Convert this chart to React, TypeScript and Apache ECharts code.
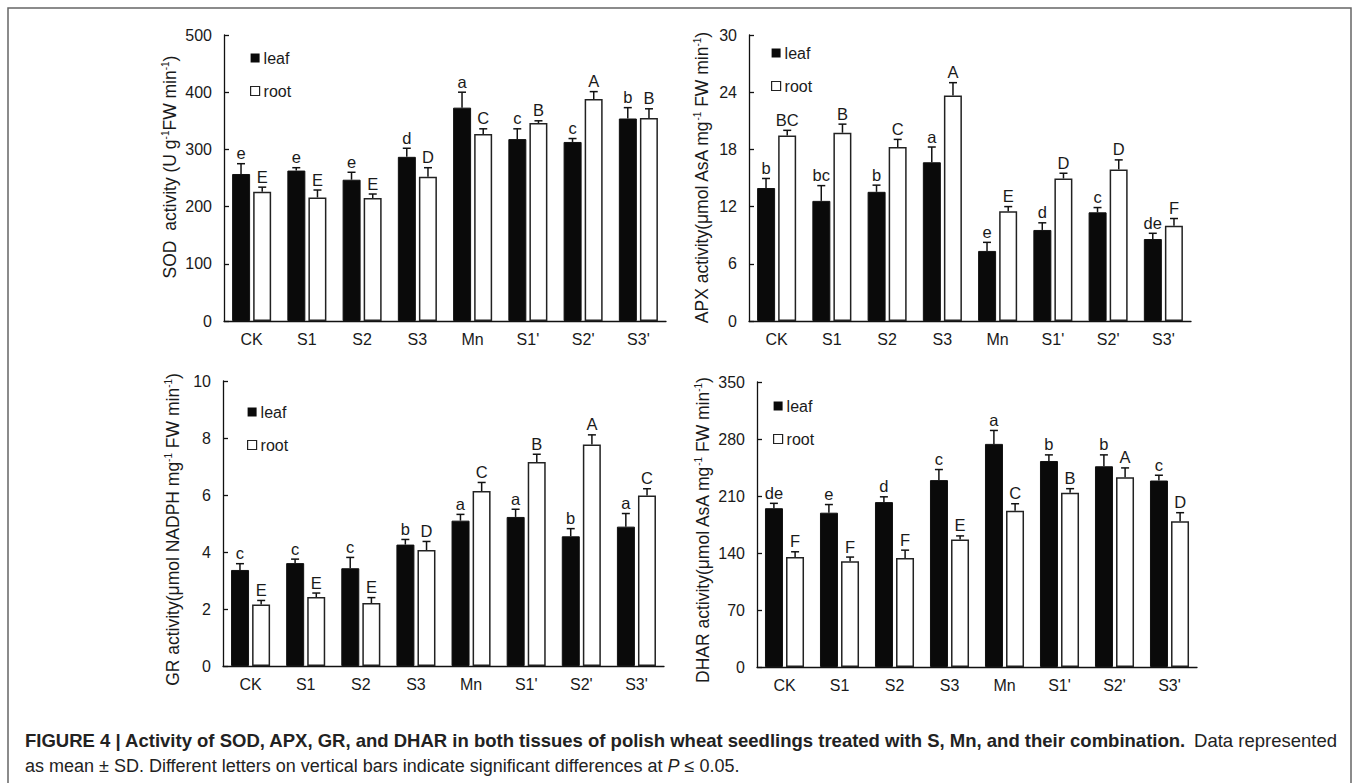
import React, { useEffect, useRef } from "react";
import * as echarts from "echarts";

const FONT = "'Liberation Sans', Arial, Helvetica, sans-serif";
const TXT = "#1a1a1a";

const categories = ["CK", "S1", "S2", "S3", "Mn", "S1'", "S2'", "S3'"];
const seriesNames = ["leaf", "root"];

// SOD (U g-1 FW min-1)
const sodLeaf = [257, 263, 247, 287, 373, 318, 313, 354];
const sodLeafSd = [18, 5, 13, 15, 27, 18, 6, 19];
const sodLeafLetters = ["e", "e", "e", "d", "a", "c", "c", "b"];
const sodRoot = [226, 216, 215, 252, 327, 346, 388, 355];
const sodRootSd = [8, 13, 7, 16, 9, 4, 13, 16];
const sodRootLetters = ["E", "E", "E", "D", "C", "B", "A", "B"];

// APX
const apxLeaf = [13.95, 12.6, 13.55, 16.65, 7.35, 9.55, 11.4, 8.6];
const apxLeafSd = [1.0, 1.6, 0.7, 1.6, 0.9, 0.75, 0.5, 0.6];
const apxLeafLetters = ["b", "bc", "b", "a", "e", "d", "c", "de"];
const apxRoot = [19.45, 19.75, 18.25, 23.65, 11.5, 14.95, 15.9, 10.0];
const apxRootSd = [0.55, 0.9, 0.8, 1.35, 0.5, 0.55, 1.0, 0.75];
const apxRootLetters = ["BC", "B", "C", "A", "E", "D", "D", "F"];

// GR
const grLeaf = [3.37, 3.61, 3.43, 4.26, 5.1, 5.23, 4.55, 4.89];
const grLeafSd = [0.22, 0.14, 0.38, 0.18, 0.22, 0.27, 0.27, 0.46];
const grLeafLetters = ["c", "c", "c", "b", "a", "a", "b", "a"];
const grRoot = [2.16, 2.42, 2.21, 4.07, 6.14, 7.16, 7.77, 5.98];
const grRootSd = [0.14, 0.14, 0.19, 0.3, 0.3, 0.27, 0.34, 0.24];
const grRootLetters = ["E", "E", "E", "D", "C", "B", "A", "C"];

// DHAR
const dharLeaf = [195, 189.5, 202.5, 229.5, 274, 253, 246.5, 229];
const dharLeafSd = [6, 10, 6.5, 13, 16.5, 7.5, 14, 6.5];
const dharLeafLetters = ["de", "e", "d", "c", "a", "b", "b", "c"];
const dharRoot = [135, 130, 134, 156.5, 192, 214, 233, 179];
const dharRootSd = [6.5, 5, 9.5, 4.5, 8.5, 5, 11.5, 10.5];
const dharRootLetters = ["F", "F", "F", "E", "C", "B", "A", "D"];

const yMax = [500, 30, 10, 350];
const yInterval = [100, 6, 2, 70];
const yNames = [
  "SOD  activity (U g{sup|-1}FW min{sup|-1})",
  "APX activity(μmol AsA mg{sup|-1} FW min{sup|-1})",
  "GR activity(μmol NADPH mg{sup|-1} FW min{sup|-1})",
  "DHAR activity(μmol AsA mg{sup|-1} FW min{sup|-1})",
];

const captionBold =
  "FIGURE 4 | Activity of SOD, APX, GR, and DHAR in both tissues of polish wheat seedlings treated with S, Mn, and their combination.";
const captionTail = "Data represented";
const captionLine2 =
  "as mean ± SD. Different letters on vertical bars indicate significant differences at {i|P} ≤ 0.05.";

const panelData = [
  { leaf: sodLeaf, leafSd: sodLeafSd, leafLet: sodLeafLetters, root: sodRoot, rootSd: sodRootSd, rootLet: sodRootLetters },
  { leaf: apxLeaf, leafSd: apxLeafSd, leafLet: apxLeafLetters, root: apxRoot, rootSd: apxRootSd, rootLet: apxRootLetters },
  { leaf: grLeaf, leafSd: grLeafSd, leafLet: grLeafLetters, root: grRoot, rootSd: grRootSd, rootLet: grRootLetters },
  { leaf: dharLeaf, leafSd: dharLeafSd, leafLet: dharLeafLetters, root: dharRoot, rootSd: dharRootSd, rootLet: dharRootLetters },
];

// layout (positions only)
const grids = [
  { left: 224, top: 35, width: 442, height: 286 },
  { left: 749, top: 35, width: 442, height: 286 },
  { left: 223, top: 381, width: 441, height: 285 },
  { left: 757, top: 382, width: 440, height: 285 },
];
const legendPos = [
  { left: 250, top: 50 },
  { left: 771, top: 45 },
  { left: 247, top: 404 },
  { left: 773, top: 398 },
];
const nameGaps = [44, 37, 40, 44];
const namePads = [
  [0, 0, 0, 22],
  [0, 0, 0, 0],
  [0, 12, 0, 0],
  [0, 12, 0, 0],
];

const BAR_W = 18;
const BAR_OFF = 10.6;

export default function App() {
  const ref = useRef<HTMLDivElement>(null);

  useEffect(() => {
    document.body.style.margin = "0";
    if (!ref.current) return;
    const chart = echarts.init(ref.current, null, { renderer: "svg" });

    const series: any[] = [];
    panelData.forEach((p, k) => {
      series.push({
        name: "leaf",
        type: "bar",
        xAxisIndex: k,
        yAxisIndex: k,
        data: p.leaf,
        barWidth: BAR_W,
        barGap: "17%",
        itemStyle: { color: "#0a0a0a", borderColor: "#111", borderWidth: 1 },
        z: 2,
      });
      series.push({
        name: "root",
        type: "bar",
        xAxisIndex: k,
        yAxisIndex: k,
        data: p.root,
        barWidth: BAR_W,
        barGap: "17%",
        itemStyle: { color: "#ffffff", borderColor: "#222", borderWidth: 1.5 },
        z: 2,
      });
      const mk = (vals: number[], sds: number[], lets: string[], off: number, nm: string) => ({
        name: nm,
        type: "custom",
        xAxisIndex: k,
        yAxisIndex: k,
        z: 5,
        data: vals.map((v, i) => [i, v, sds[i]]),
        encode: { x: 0, y: 1 },
        renderItem: (params: any, api: any) => {
          const i = api.value(0);
          const v = api.value(1);
          const sd = api.value(2);
          const base = api.coord([i, v]);
          const top = api.coord([i, v + sd]);
          const x = base[0] + off;
          const ls = { stroke: "#111", lineWidth: 1.5 };
          return {
            type: "group",
            children: [
              { type: "line", shape: { x1: x, y1: base[1], x2: x, y2: top[1] }, style: ls },
              { type: "line", shape: { x1: x - 4, y1: top[1], x2: x + 4, y2: top[1] }, style: ls },
              {
                type: "text",
                x: x,
                y: top[1] - 2,
                style: {
                  text: lets[params.dataIndex],
                  fill: TXT,
                  fontSize: 16.5,
                  fontFamily: FONT,
                  align: "center",
                  verticalAlign: "bottom",
                },
              },
            ],
          };
        },
      });
      series.push(mk(p.leaf, p.leafSd, p.leafLet, -BAR_OFF, "leafErr" + k));
      series.push(mk(p.root, p.rootSd, p.rootLet, BAR_OFF, "rootErr" + k));
    });

    const option: any = {
      animation: false,
      backgroundColor: "#ffffff",
      textStyle: { fontFamily: FONT },
      grid: grids.map((g) => ({ ...g, containLabel: false })),
      legend: legendPos.map((lp) => ({
        ...lp,
        orient: "vertical",
        selectedMode: false,
        padding: 0,
        itemWidth: 9,
        itemHeight: 9,
        itemGap: 17,
        icon: "rect",
        textStyle: { fontSize: 16, color: TXT, fontFamily: FONT, padding: [0, 0, 0, -1] },
        data: [
          { name: seriesNames[0], itemStyle: { color: "#0a0a0a", borderWidth: 0 } },
          { name: seriesNames[1], itemStyle: { color: "#ffffff", borderColor: "#222", borderWidth: 1.2 } },
        ],
      })),
      xAxis: grids.map((_, k) => ({
        gridIndex: k,
        type: "category",
        data: categories,
        axisTick: { show: false },
        axisLine: { show: true, lineStyle: { color: "#111", width: 1.3 } },
        axisLabel: { fontSize: 16, color: TXT, margin: 10, fontFamily: FONT },
        splitLine: { show: false },
      })),
      yAxis: grids.map((_, k) => ({
        gridIndex: k,
        type: "value",
        min: 0,
        max: yMax[k],
        interval: yInterval[k],
        axisLine: { show: true, lineStyle: { color: "#111", width: 1.3 } },
        axisTick: { show: true, inside: true, length: 5, lineStyle: { color: "#111", width: 1.3 } },
        splitLine: { show: false },
        axisLabel: { fontSize: 16, color: TXT, margin: 12, fontFamily: FONT },
        name: yNames[k],
        nameLocation: "middle",
        nameGap: nameGaps[k],
        nameRotate: 90,
        nameTextStyle: {
          fontSize: 17.5,
          color: TXT,
          fontFamily: FONT,
          lineHeight: 20,
          padding: namePads[k],
          rich: {
            sup: { fontSize: 10, lineHeight: 8, verticalAlign: "top", color: TXT, fontFamily: FONT },
          },
        },
      })),
      series,
      graphic: [
        {
          type: "polyline",
          silent: true,
          shape: { points: [[8, 800], [8, 8], [1351, 8], [1351, 800]] },
          style: { stroke: "#666", lineWidth: 1.5, fill: null },
        },
        {
          type: "text",
          x: 25,
          y: 740,
          style: {
            text: captionBold,
            fill: "#222",
            fontSize: 18.5,
            fontWeight: "bold",
            fontFamily: FONT,
            verticalAlign: "middle",
          },
        },
        {
          type: "text",
          x: 1337,
          y: 740,
          style: {
            text: captionTail,
            fill: "#222",
            fontSize: 18.5,
            fontFamily: FONT,
            align: "right",
            verticalAlign: "middle",
          },
        },
        {
          type: "text",
          x: 25,
          y: 766,
          style: {
            text: captionLine2,
            fill: "#222",
            fontSize: 18,
            fontFamily: FONT,
            verticalAlign: "middle",
            rich: { i: { fontStyle: "italic", fontSize: 18, fontFamily: FONT, fill: "#222" } },
          },
        },
      ],
    };

    chart.setOption(option);
    return () => chart.dispose();
  }, []);

  return <div ref={ref} style={{ width: 1357, height: 783 }} />;
}
